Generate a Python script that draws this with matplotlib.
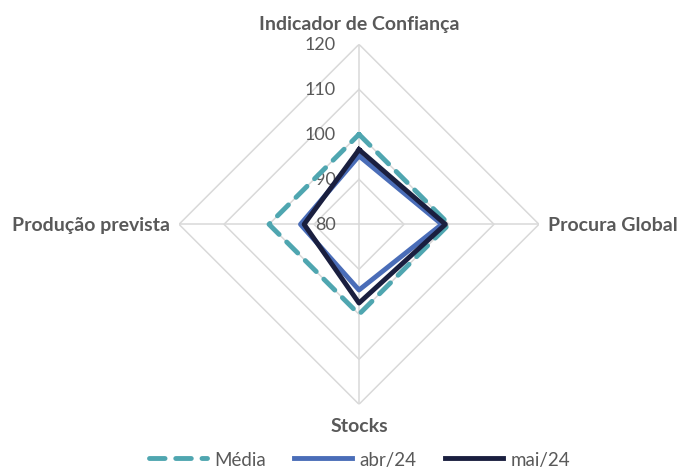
import numpy as np
import matplotlib.pyplot as plt

categories = ['Indicador de Confiança', 'Procura Global', 'Stocks', 'Produção prevista']
media = [100, 100, 100, 100]
abr24 = [95.2, 98.4, 94.6, 93.0]
mai24 = [96.6, 99.2, 97.5, 92.2]
rings = [80, 90, 100, 110, 120]

plt.rcParams['font.family'] = ['Lato', 'DejaVu Sans']
txt_color = '#595959'
grid_color = '#D9D9D9'

fig = plt.figure(figsize=(6.78, 4.77), dpi=100)
ax = fig.add_axes([0.2640, 0.1503, 0.5310, 0.7547], projection='polar')
ax.set_theta_zero_location('N')
ax.set_theta_direction(-1)
ax.set_ylim(rings[0], rings[-1])

ang = np.linspace(0, 2 * np.pi, len(categories), endpoint=False)
ang_c = np.append(ang, ang[0])

# polygonal grid instead of the circles
ax.grid(False)
ax.spines['polar'].set_visible(False)
ax.set_xticks([])
ax.set_yticks([])
for r in rings[1:]:
    ax.plot(ang_c, [r] * len(ang_c), color=grid_color, lw=1.1, zorder=1)
for a in ang:
    ax.plot([a, a], [rings[0], rings[-1]], color=grid_color, lw=1.1, zorder=1)

for r in rings:
    ax.annotate(str(r), xy=(0, r), xytext=(-17, 0), textcoords='offset points',
                ha='right', va='center', fontsize=13, color=txt_color, zorder=2)

def closed(v):
    return list(v) + [v[0]]

ax.plot(ang_c, closed(media), color='#4FA6B0', lw=3.5, ls=(0, (3.2, 2.2)),
        dash_capstyle='round', label='Média', zorder=3)
ax.plot(ang_c, closed(abr24), color='#4A6DB8', lw=3.5, label='abr/24', zorder=4)
ax.plot(ang_c, closed(mai24), color='#1A1F3F', lw=3.5, label='mai/24', zorder=5)

# category labels
lab_kw = dict(fontsize=14, fontweight='bold', color=txt_color)
ax.annotate(categories[0], xy=(ang[0], rings[-1]), xytext=(0, 9), textcoords='offset points',
            ha='center', va='bottom', **lab_kw)
ax.annotate(categories[1], xy=(ang[1], rings[-1]), xytext=(6.5, 0), textcoords='offset points',
            ha='left', va='center', **lab_kw)
ax.annotate(categories[2], xy=(ang[2], rings[-1]), xytext=(0, -9), textcoords='offset points',
            ha='center', va='top', **lab_kw)
ax.annotate(categories[3], xy=(ang[3], rings[-1]), xytext=(-6.5, 0), textcoords='offset points',
            ha='right', va='center', **lab_kw)

leg = fig.legend(loc='lower center', bbox_to_anchor=(0.53, -0.018), ncol=3, frameon=False,
                 fontsize=13.5, handlelength=3.1, handletextpad=0.4, columnspacing=1.5)
for t in leg.get_texts():
    t.set_color(txt_color)

fig.savefig('out.png', dpi=100)
